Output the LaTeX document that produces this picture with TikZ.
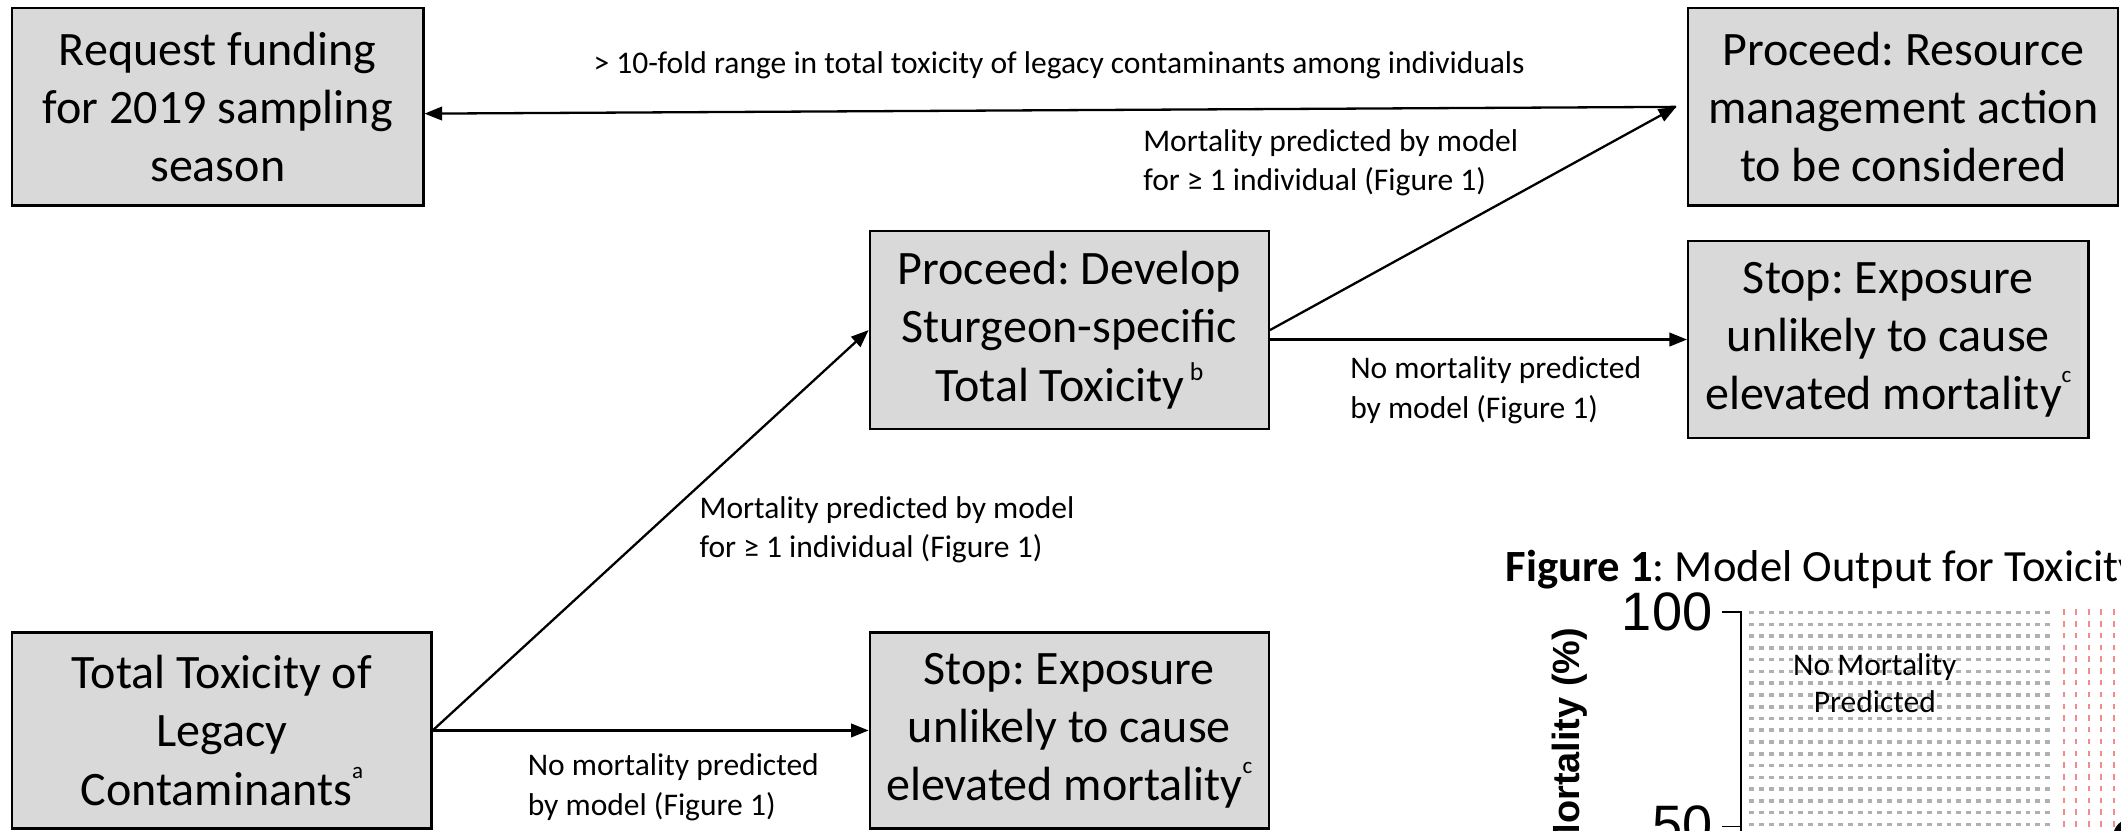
\documentclass[tikz,border=0pt]{standalone}
\usepackage{fontspec}
\setmainfont{Carlito}
\newfontfamily\arialf{Liberation Sans}
\usetikzlibrary{arrows.meta}
\definecolor{boxgray}{HTML}{D9D9D9}
\definecolor{dotgray}{HTML}{B0B0B0}
\definecolor{dotred}{HTML}{F08C8C}
\newcommand\mysup[3]{{\fontsize{#1}{#1}\selectfont\raisebox{#2}{#3}}}
\frenchspacing
\begin{document}
\begin{tikzpicture}[x=1pt,y=-1pt,
  box/.style={draw=black, line width=1.7pt, fill=boxgray, align=center, inner sep=0pt,
    font=\fontsize{35.5}{43}\selectfont},
  lbl/.style={align=left, inner sep=0pt, font=\fontsize{23.3}{29}\selectfont},
  arr/.style={line width=1.7pt, -{Triangle[length=13pt,width=10pt]}},
  axisline/.style={line width=1.3pt}
]
\clip (0,0) rectangle (1568,614);
\fill[white] (0,0) rectangle (1568,614);

% boxes
\node[box, minimum width=304pt, minimum height=146pt] (req) at (161,79)
  {Request funding\\for 2019 sampling\\season};
\node[box, minimum width=318pt, minimum height=146pt] (res) at (1407,79)
  {Proceed: Resource\\management action\\to be considered};
\node[box, minimum width=296pt, minimum height=146pt] (stop1) at (1396,251)
  {Stop: Exposure\\unlikely to cause\\elevated mortality\mysup{17}{20pt}{c}};
\node[box, minimum width=295pt, minimum height=146pt] (dev) at (790.5,244)
  {Proceed: Develop\\Sturgeon-specific\\Total Toxicity\kern4pt\mysup{19}{15pt}{b}};
\node[box, minimum width=310pt, minimum height=145pt] (tt) at (164,540)
  {Total Toxicity of\\Legacy\\Contaminants\mysup{17}{20pt}{a}};
\node[box, minimum width=295pt, minimum height=145pt] (stop2) at (790.5,540)
  {Stop: Exposure\\unlikely to cause\\elevated mortality\mysup{17}{20pt}{c}};

% connectors
\draw[arr] ([xshift=-8pt]res.west) -- ([yshift=-5pt]req.east);
\draw[arr] (dev.east) -- ([xshift=-8pt]res.west);
\draw[arr] (dev.east |- stop1.west) -- (stop1.west);
\draw[arr] (tt.east) -- (dev.west);
\draw[arr] (tt.east) -- (stop2.west);

% labels
\node[lbl, anchor=center] (ltop) at (783,48)
  {> 10-fold range in total toxicity of legacy contaminants among individuals};
\node[lbl, anchor=west] (l1) at (845,120.5)
  {Mortality predicted by model\\for ≥ 1 individual (Figure 1)};
\node[lbl, anchor=west] (l2) at (998,288.5)
  {No mortality predicted\\by model (Figure 1)};
\node[lbl, anchor=west] (l3) at (517,391.5)
  {Mortality predicted by model\\for ≥ 1 individual (Figure 1)};
\node[lbl, anchor=west] (l4) at (390,582)
  {No mortality predicted\\by model (Figure 1)};

% Figure 1 (partial)
\node[anchor=west, inner sep=0pt, font=\fontsize{33}{39}\selectfont] (fig1) at (1113,421)
  {\textbf{Figure 1}: Model Output for Toxicity};
\foreach \i in {0,...,30}{
  \foreach \j in {0,...,19}{
    \fill[dotgray] ({1293+\i*7.3},{451.5+\j*8.7}) rectangle +(3.6,2.7);
  }
}
\foreach \i in {0,...,5}{
  \foreach \j in {0,...,19}{
    \fill[dotred] ({1525+\i*9.2},{450.5+\j*8.7}) rectangle +(1.5,4);
  }
}
\fill[black] (1576,619) circle (14);
\draw[axisline] (1273,452.5) -- (1287,452.5) -- (1287,620);
\draw[axisline] (1273,611) -- (1287,611);
\node[anchor=east, inner sep=0pt, font=\arialf\fontsize{40}{40}\selectfont] (t100) at (1266,452.5) {100};
\node[anchor=east, inner sep=0pt, font=\arialf\fontsize{40}{40}\selectfont] (t50) at (1266,610) {50};
\node[rotate=90, anchor=base east, inner sep=0pt, font=\arialf\bfseries\fontsize{28}{28}\selectfont] (ylab) at (1168,464) {Mortality (\%)};
\node[align=center, inner sep=0pt, font=\fontsize{23.3}{27.5}\selectfont] (nomort) at (1386,505)
  {No Mortality\\Predicted};
\end{tikzpicture}
\end{document}
